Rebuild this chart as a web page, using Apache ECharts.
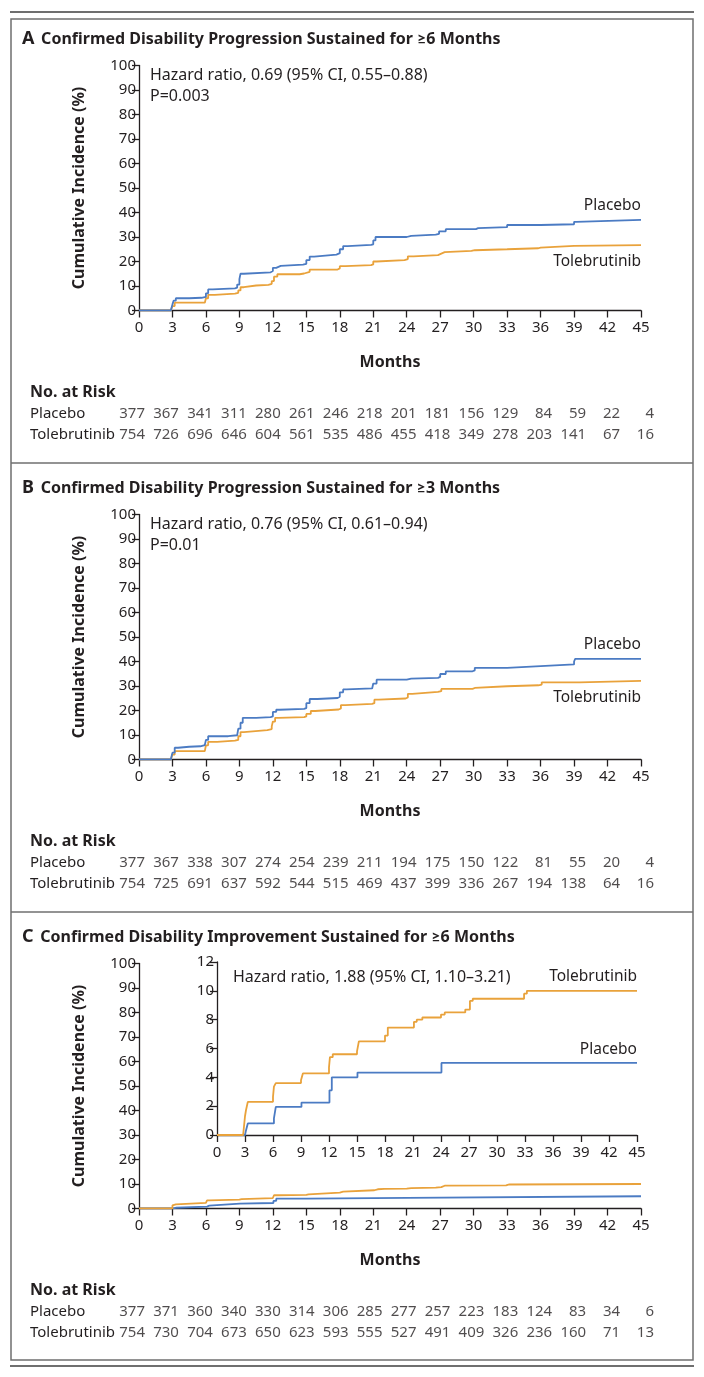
<!DOCTYPE html>
<html><head><meta charset="utf-8">
<script src="https://cdn.jsdelivr.net/npm/echarts@6.0.0/dist/echarts.min.js"></script>
<style>html,body{margin:0;padding:0;background:#fff}#c{width:704px;height:1377px}</style>
</head><body><div id="c"></div>
<script>
// ---------- data ----------
const monthTicks = [0,3,6,9,12,15,18,21,24,27,30,33,36,39,42,45];

const riskA_placebo = [377,367,341,311,280,261,246,218,201,181,156,129,84,59,22,4];
const riskA_tol     = [754,726,696,646,604,561,535,486,455,418,349,278,203,141,67,16];
const riskB_placebo = [377,367,338,307,274,254,239,211,194,175,150,122,81,55,20,4];
const riskB_tol     = [754,725,691,637,592,544,515,469,437,399,336,267,194,138,64,16];
const riskC_placebo = [377,371,360,340,330,314,306,285,277,257,223,183,124,83,34,6];
const riskC_tol     = [754,730,704,673,650,623,593,555,527,491,409,326,236,160,71,13];

// [month, cumulative incidence %]
const curveA_placebo = [[0,0],[2.85,0.4],[3.0,2.5],[3.1,4.0],[3.3,5.0],[4.5,5.2],[5.6,5.6],[6.0,7.0],[6.2,8.6],[6.6,9.0],[8.6,9.3],[8.8,10.6],[9.0,12.8],[9.1,15.0],[9.4,15.6],[11.8,16.1],[12.0,17.4],[12.3,18.2],[12.7,18.7],[14.7,19.0],[15.0,20.6],[15.3,22.0],[15.7,22.8],[17.7,23.4],[18.0,25.0],[18.3,26.3],[18.7,26.8],[20.8,27.0],[21.0,28.6],[21.2,30.0],[24.0,30.5],[24.4,31.0],[26.6,31.3],[26.9,32.3],[27.5,33.2],[30.2,33.6],[30.4,34.0],[33.0,34.9],[36.0,35.2],[39.0,36.2],[39.2,37.0],[45,37.0]];
const curveA_tol = [[0,0],[2.85,0.3],[3.0,1.8],[3.2,3.2],[5.9,3.4],[6.0,5.0],[6.2,6.4],[6.8,6.9],[8.6,7.2],[8.9,8.2],[9.1,9.5],[9.4,10.2],[10.5,10.5],[11.6,10.9],[11.9,12.0],[12.1,13.8],[12.4,14.8],[14.4,15.1],[14.8,15.8],[15.3,16.7],[17.8,17.2],[18.0,18.1],[18.5,18.5],[20.8,18.8],[21.0,20.0],[21.3,20.6],[23.8,21.0],[24.1,22.1],[24.6,22.6],[26.8,23.0],[27.0,23.8],[27.4,24.3],[29.8,24.6],[30.1,25.0],[33.0,25.4],[35.8,25.7],[36.0,26.4],[39.0,26.7],[45,26.7]];
const curveB_placebo = [[0,0],[2.85,0.4],[3.0,2.8],[3.2,4.8],[3.5,5.2],[4.5,5.4],[5.5,5.9],[5.9,6.4],[6.0,8.0],[6.2,9.5],[8.0,9.9],[8.8,10.5],[8.9,12.6],[9.1,15.0],[9.3,17.0],[10.5,17.3],[11.8,17.6],[12.0,19.4],[12.3,20.3],[12.6,20.7],[14.8,21.0],[15.0,23.0],[15.3,24.7],[16.0,25.1],[17.8,25.6],[18.0,27.4],[18.3,28.6],[18.6,29.0],[20.9,29.3],[21.0,31.0],[21.3,32.6],[24.0,33.0],[24.4,33.3],[26.8,33.7],[27.0,34.9],[27.5,36.0],[29.9,36.4],[30.1,37.4],[33.0,38.1],[36.0,38.8],[39.0,40.0],[39.1,41.1],[45,41.1]];
const curveB_tol = [[0,0],[2.85,0.3],[3.0,2.0],[3.2,3.4],[5.9,3.6],[6.0,5.8],[6.2,7.2],[7.0,7.7],[8.6,8.0],[8.9,9.5],[9.1,11.2],[9.4,12.0],[11.5,12.4],[11.9,13.5],[12.0,15.5],[12.2,17.0],[12.5,17.3],[14.8,17.6],[15.0,18.6],[15.4,19.8],[15.8,20.4],[17.9,20.8],[18.1,22.2],[18.5,22.7],[20.9,23.0],[21.1,24.4],[21.5,24.9],[23.9,25.3],[24.1,26.8],[24.5,27.6],[26.8,27.9],[27.1,28.8],[29.9,29.2],[30.1,29.9],[33.0,30.3],[35.8,30.6],[36.1,31.5],[39.5,32.1],[45,32.1]];
const curveC_placebo = [[0,0],[3.0,0],[3.1,0.3],[3.3,0.8],[6.1,1.15],[6.3,1.95],[9.05,2.25],[12.05,3.1],[12.3,4.0],[15.05,4.33],[24.05,5.0],[45,5.0]];
const curveC_tol = [[0,0],[2.8,0],[3.0,1.3],[3.1,1.7],[3.3,2.3],[6.0,2.65],[6.1,3.35],[6.3,3.6],[9.0,3.8],[9.2,4.27],[12.0,4.7],[12.1,5.4],[12.4,5.6],[15.0,5.8],[15.2,6.5],[18.0,6.9],[18.3,7.45],[21.1,7.85],[21.4,8.0],[22.0,8.15],[24.0,8.35],[24.4,8.5],[26.6,8.7],[27.1,9.3],[27.4,9.45],[32.9,9.8],[33.2,10.0],[45,10.0]];

// ---------- style ----------
const FONT = "'Noto Sans', Lato, sans-serif";
const INK = '#231f20';
const BLUE = '#4b7bc3';
const ORANGE = '#e9a23b';
const PANEL_DY = 449;

const chart = echarts.init(document.getElementById('c'), null, {renderer:'canvas'});

const grids = [], xAxes = [], yAxes = [], series = [], graphics = [];

function axisBase(){
  return {
    axisLine:{show:true, onZero:false, lineStyle:{color:INK, width:1.3}},
    axisTick:{show:true, inside:false, length:7, lineStyle:{color:INK, width:1.3}},
    axisLabel:{color:INK, fontFamily:FONT, fontSize:15},
    splitLine:{show:false}
  };
}

function addPlot(top, height, left, width, yMax, yInt, withNames){
  const gi = grids.length;
  grids.push({left:left, top:top, width:width, height:height, containLabel:false});
  const xa = Object.assign(axisBase(), {type:'value', gridIndex:gi, min:0, max:45, interval:3});
  xa.axisLabel = Object.assign({}, xa.axisLabel, {margin:10});
  const ya = Object.assign(axisBase(), {type:'value', gridIndex:gi, min:0, max:yMax, interval:yInt});
  ya.axisLabel = Object.assign({}, ya.axisLabel, {margin:3});
  if (withNames){
    xa.name = 'Months'; xa.nameLocation='middle'; xa.nameGap=44;
    xa.nameTextStyle = {fontFamily:FONT, fontWeight:'bold', fontSize:16, color:INK};
    ya.name = 'Cumulative Incidence (%)'; ya.nameLocation='middle'; ya.nameGap=52; ya.nameRotate=90;
    ya.nameTextStyle = {fontFamily:FONT, fontWeight:'bold', fontSize:16, color:INK};
  }
  xAxes.push(xa); yAxes.push(ya);
  return gi;
}
function addCurve(gi, data, color, z){
  series.push({type:'line', xAxisIndex:gi, yAxisIndex:gi, data:data, step:'end', showSymbol:false,
    symbol:'none', lineStyle:{color:color, width:1.8}, silent:true, animation:false, z:z||2});
}
function addRisk(top, placeboVals, tolVals){
  const gi = grids.length;
  grids.push({left:145, right:50, top:top, height:21});
  xAxes.push({type:'value', gridIndex:gi, min:0, max:45, show:false});
  yAxes.push({type:'value', gridIndex:gi, min:0, max:1, inverse:true, show:false});
  [placeboVals, tolVals].forEach((vals,row)=>{
    series.push({type:'scatter', xAxisIndex:gi, yAxisIndex:gi, symbolSize:0, silent:true, animation:false,
      data: monthTicks.map((m,i)=>[m,row,vals[i]]),
      label:{show:true, position:'inside', align:'right', verticalAlign:'middle',
        formatter:p=>String(p.value[2]), color:INK, fontFamily:FONT, fontSize:15}});
  });
}
function txt(x,y,text,opt){
  graphics.push({type:'text', x:x, y:y, silent:true, style:Object.assign({text:text, fill:INK, font:'15px '+FONT,
    textVerticalAlign:'middle', verticalAlign:'middle'}, opt||{})});
}

const panels = [
  {letter:'A', title:'Confirmed Disability Progression Sustained for \u22656 Months', hr:'Hazard ratio, 0.69 (95% CI, 0.55\u20130.88)', p:'P=0.003',
   placebo:curveA_placebo, tol:curveA_tol, rp:riskA_placebo, rt:riskA_tol, lp:206, lt:262},
  {letter:'B', title:'Confirmed Disability Progression Sustained for \u22653 Months', hr:'Hazard ratio, 0.76 (95% CI, 0.61\u20130.94)', p:'P=0.01',
   placebo:curveB_placebo, tol:curveB_tol, rp:riskB_placebo, rt:riskB_tol, lp:645-PANEL_DY, lt:698-PANEL_DY},
  {letter:'C', title:'Confirmed Disability Improvement Sustained for \u22656 Months',
   placebo:curveC_placebo, tol:curveC_tol, rp:riskC_placebo, rt:riskC_tol}
];

const LBL = {font:'15.5px '+FONT, textAlign:'right', align:'right'};
const HR = {font:'16px '+FONT};

panels.forEach((pn, k)=>{
  const dy = k*PANEL_DY;
  // title
  graphics.push({type:'text', x:22, y:39+dy, silent:true, style:{text:'{l|'+pn.letter+'}  {t|'+pn.title+'}',
    verticalAlign:'middle', textVerticalAlign:'middle',
    rich:{l:{font:'bold 18px '+FONT, fill:INK}, t:{font:'bold 16px '+FONT, fill:INK}}}});
  const gi = addPlot(65.5+dy, 245, 139, 502, 100, 10, true);
  if (k===2){
    addCurve(gi, pn.placebo, BLUE); addCurve(gi, pn.tol, ORANGE, 3);
  } else {
    addCurve(gi, pn.tol, ORANGE); addCurve(gi, pn.placebo, BLUE, 3);
    txt(150, 75+dy, pn.hr, HR); txt(150, 96+dy, pn.p, HR);
    txt(641, pn.lp+dy, 'Placebo', LBL);
    txt(641, pn.lt+dy, 'Tolebrutinib', LBL);
  }
  // risk table
  txt(30, 392+dy, 'No. at Risk', {font:'bold 16px '+FONT});
  txt(30, 414+dy, 'Placebo');
  txt(30, 435+dy, 'Tolebrutinib');
  addRisk(414+dy, pn.rp, pn.rt);
});

// inset for panel C
const gInset = addPlot(962, 173, 217, 420, 12, 2, false);
addCurve(gInset, curveC_placebo, BLUE);
addCurve(gInset, curveC_tol, ORANGE, 3);
txt(233, 977, 'Hazard ratio, 1.88 (95% CI, 1.10\u20133.21)', HR);
txt(637, 977, 'Tolebrutinib', LBL);
txt(637, 1050, 'Placebo', LBL);

// frame
const GRAY = '#6f6f6f';
graphics.push({type:'line', silent:true, shape:{x1:10, y1:12, x2:694, y2:12}, style:{stroke:GRAY, lineWidth:2}});
graphics.push({type:'rect', silent:true, shape:{x:11, y:19, width:682, height:1341}, style:{fill:'none', stroke:GRAY, lineWidth:1.5}});
graphics.push({type:'line', silent:true, shape:{x1:11, y1:463, x2:693, y2:463}, style:{stroke:GRAY, lineWidth:1.5}});
graphics.push({type:'line', silent:true, shape:{x1:11, y1:912, x2:693, y2:912}, style:{stroke:GRAY, lineWidth:1.5}});
graphics.push({type:'line', silent:true, shape:{x1:10, y1:1366, x2:694, y2:1366}, style:{stroke:GRAY, lineWidth:2}});

chart.setOption({
  animation:false,
  backgroundColor:'#fff',
  grid:grids, xAxis:xAxes, yAxis:yAxes, series:series,
  graphic:graphics
});
</script></body></html>
